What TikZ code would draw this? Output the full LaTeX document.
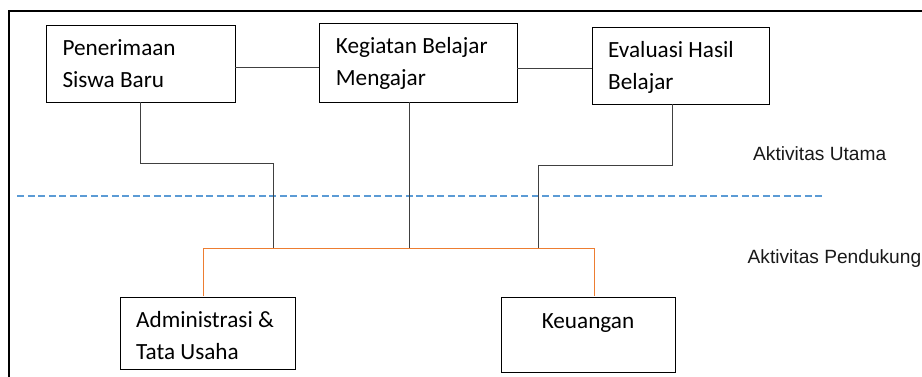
\documentclass[tikz,border=0pt]{standalone}
\usepackage{fontspec}
\setmainfont{Carlito}
\newfontfamily\arialf{Liberation Sans}
\definecolor{conn}{HTML}{404040}
\definecolor{orng}{HTML}{ED7D31}
\definecolor{dblue}{HTML}{5B9BD5}
\tikzset{
  box/.style={draw=black, line width=1pt, inner sep=0pt, outer sep=0pt, rectangle},
  btext/.style={anchor=base west, inner sep=0pt, font=\fontsize{23.2}{28}\selectfont},
  ctext/.style={anchor=base, inner sep=0pt, font=\fontsize{23.2}{28}\selectfont},
  lbl/.style={anchor=base west, inner sep=0pt, font=\arialf\fontsize{19.15}{23}\selectfont, text=black!90},
  conline/.style={draw=conn, line width=1pt},
  orline/.style={draw=orng, line width=1pt},
  sepline/.style={draw=dblue, line width=1.8pt, dash pattern=on 7pt off 3.5pt},
  frameline/.style={draw=black, line width=1.8pt}
}
\begin{document}
\begin{tikzpicture}[x=1pt,y=-1pt]
\useasboundingbox (0,0) rectangle (922,376);
\begin{scope}
\clip (0,0) rectangle (922,376);
% frame
\coordinate (fbl) at (9,390);
\coordinate (ftl) at (9,11);
\coordinate (ftr) at (940,11);
\draw[frameline] (fbl) -- (ftl) -- (ftr);

% boxes
\node[box, minimum width=189pt, minimum height=77pt] (pen) at (140.5,63.5) {};
\node[box, minimum width=198pt, minimum height=78.5pt] (keg) at (418,62.75) {};
\node[box, minimum width=177pt, minimum height=77pt] (eva) at (680.5,65.8) {};
\node[box, minimum width=175pt, minimum height=71.7pt] (adm) at (207.5,333.2) {};
\node[box, minimum width=174pt, minimum height=75pt] (keu) at (588,334.8) {};

% box texts
\node[btext] (penA) at (62.3,55) {Penerimaan};
\node[btext] (penB) at (62.3,87.3) {Siswa Baru};
\node[btext] (kegA) at (335.7,53.3) {Kegiatan Belajar};
\node[btext] (kegB) at (335.7,85) {Mengajar};
\node[btext] (evaA) at (608,57.3) {Evaluasi Hasil};
\node[btext] (evaB) at (608,89.3) {Belajar};
\node[btext] (admA) at (136,327) {Administrasi \&};
\node[btext] (admB) at (136,359) {Tata Usaha};
\node[ctext] (keuA) at (588,328.3) {Keuangan};

% labels
\node[lbl] (utama) at (753,160.7) {Aktivitas Utama};
\node[lbl] (pend) at (747.5,263.3) {Aktivitas Pendukung};

% separator
\coordinate (sepL) at (17.3,195.7);
\coordinate (sepR) at (821.7,195.7);
\draw[sepline] (sepL) -- (sepR);

% junction coordinates
\coordinate (jp) at (273.7,248.5);
\coordinate (jk) at (409,248.5);
\coordinate (je) at (538.7,248.5);
\coordinate (ol) at (203.3,248.5);
\coordinate (or) at (594.3,248.5);

% top connectors
\draw[conline] ([yshift=-3.5pt]pen.east) -- ([yshift=-3.5pt]pen.east -| keg.west);
\draw[conline] ([yshift=-5.5pt]keg.east) -- ([yshift=-5.5pt]keg.east -| eva.west);

% down connectors
\draw[conline] ([xshift=-0.5pt]pen.south) -- ++(0,61) -| (jp);
\draw[conline] ([xshift=-9pt]keg.south) -- (jk);
\draw[conline] ([xshift=-8.5pt]eva.south) -- ++(0,61) -| (je);

% orange bus
\draw[orline] ([yshift=1pt]adm.north -| ol) -- (ol) -- (or) -- ([yshift=1pt]keu.north -| or);
\end{scope}
\end{tikzpicture}
\end{document}
